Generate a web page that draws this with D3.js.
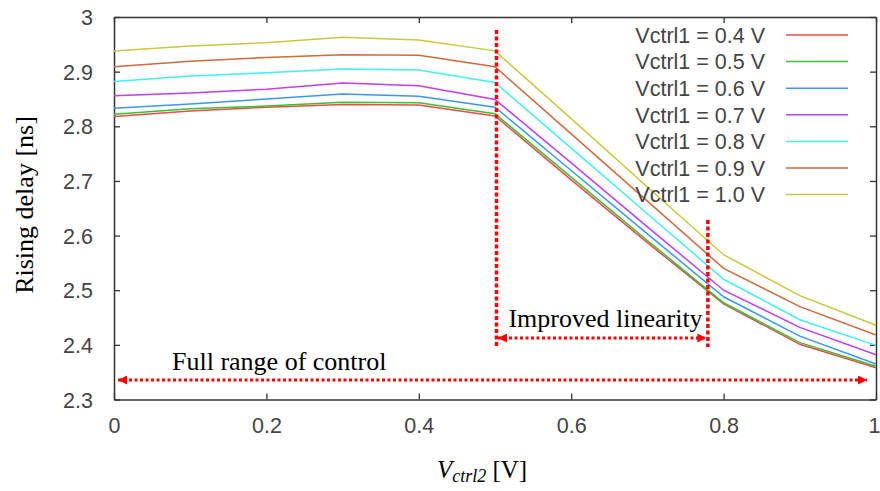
<!DOCTYPE html>
<html><head><meta charset="utf-8">
<script src="https://cdn.jsdelivr.net/npm/d3@7"></script>
<style>
html,body{margin:0;padding:0;background:#fff;}
svg{display:block;}
</style></head>
<body>
<svg id="chart" width="880" height="491"></svg>
<script>
// ---- data ----
const xValues = [0, 0.1, 0.2, 0.3, 0.4, 0.5, 0.6, 0.7, 0.8, 0.9, 1.0];
const seriesNames = ["Vctrl1 = 0.4 V","Vctrl1 = 0.5 V","Vctrl1 = 0.6 V","Vctrl1 = 0.7 V","Vctrl1 = 0.8 V","Vctrl1 = 0.9 V","Vctrl1 = 1.0 V"];
const seriesColors = ["#f24848","#33c433","#3a96f5","#c23cf0","#3ef0f0","#d06a3c","#c8c83a"];
const v04 = [2.818, 2.828, 2.835, 2.840, 2.839, 2.819, 2.702, 2.587, 2.475, 2.401, 2.358];
const v05 = [2.822, 2.832, 2.837, 2.844, 2.843, 2.823, 2.707, 2.591, 2.477, 2.404, 2.361];
const v06 = [2.833, 2.841, 2.850, 2.859, 2.855, 2.835, 2.719, 2.603, 2.488, 2.416, 2.365];
const v07 = [2.856, 2.861, 2.868, 2.879, 2.874, 2.849, 2.733, 2.616, 2.500, 2.432, 2.382];
const v08 = [2.882, 2.892, 2.898, 2.905, 2.903, 2.880, 2.760, 2.640, 2.520, 2.446, 2.399];
const v09 = [2.909, 2.919, 2.926, 2.931, 2.930, 2.909, 2.786, 2.663, 2.540, 2.470, 2.418];
const v10 = [2.938, 2.947, 2.953, 2.963, 2.958, 2.938, 2.814, 2.689, 2.565, 2.490, 2.436];
const seriesValues = [v04, v05, v06, v07, v08, v09, v10];
const xTicks = [0, 0.2, 0.4, 0.6, 0.8, 1];
const xTickLabels = ["0", "0.2", "0.4", "0.6", "0.8", "1"];
const yTicks = [2.3, 2.4, 2.5, 2.6, 2.7, 2.8, 2.9, 3];
const yTickLabels = ["2.3", "2.4", "2.5", "2.6", "2.7", "2.8", "2.9", "3"];
// annotation positions in data units
const improvedRange = [0.5, 0.78];
const fullRange = [0, 1];

// ---- layout ----
const svg = d3.select("#chart");
const L = 114, R = 876, T = 17, B = 399.5;
const x = d3.scaleLinear().domain([0, 1]).range([L, R]);
const y = d3.scaleLinear().domain([2.3, 3]).range([B, T]);
const axisColor = "#333";
const labelColor = "#444";
const sans = "'Liberation Sans', Arial, sans-serif";
const serif = "'Liberation Serif', 'Times New Roman', serif";
const tickFont = "21.5px";

// axes
const gB = svg.append("g").attr("transform", `translate(0,${B})`)
  .call(d3.axisBottom(x).tickValues(xTicks).tickFormat((d,i)=>xTickLabels[i]).tickSizeInner(-6).tickSizeOuter(0).tickPadding(18));
const gL = svg.append("g").attr("transform", `translate(${L},0)`)
  .call(d3.axisLeft(y).tickValues(yTicks).tickFormat((d,i)=>yTickLabels[i]).tickSizeInner(-6).tickSizeOuter(0).tickPadding(21));
const gT = svg.append("g").attr("transform", `translate(0,${T})`)
  .call(d3.axisTop(x).tickValues(xTicks).tickFormat("").tickSizeInner(-6).tickSizeOuter(0));
const gR = svg.append("g").attr("transform", `translate(${R},0)`)
  .call(d3.axisRight(y).tickValues(yTicks).tickFormat("").tickSizeInner(-6).tickSizeOuter(0));
[gB, gL, gT, gR].forEach(g => {
  g.select(".domain").attr("stroke", axisColor).attr("stroke-width", 1.5);
  g.selectAll(".tick line").attr("stroke", axisColor).attr("stroke-width", 1.3);
  g.selectAll(".tick text").attr("fill", labelColor).style("font-family", sans).style("font-size", tickFont);
});
gB.selectAll(".tick text").attr("dy", "0.71em");
gB.selectAll(".tick text").filter((d, i) => i === xTicks.length - 1).attr("dx", -2);
gL.selectAll(".tick text").attr("dy", "0.35em");

// series lines
const line = d3.line().x((d, i) => x(xValues[i])).y(d => y(d));
seriesValues.forEach((vals, k) => {
  svg.append("path").datum(vals)
    .attr("d", line)
    .attr("fill", "none")
    .attr("stroke", seriesColors[k])
    .attr("stroke-width", 1.5);
});

// legend
const legX = 765, legY0 = 35, legDy = 26.6;
seriesNames.forEach((name, k) => {
  const yy = legY0 + k * legDy;
  svg.append("text").attr("x", legX).attr("y", yy).attr("dy", "0.36em")
    .attr("text-anchor", "end").attr("fill", labelColor)
    .style("font-family", sans).style("font-size", tickFont).text(name);
  svg.append("line").attr("x1", 786).attr("x2", 848).attr("y1", yy).attr("y2", yy)
    .attr("stroke", seriesColors[k]).attr("stroke-width", 1.5);
});

// annotations
const defs = svg.append("defs");
defs.append("marker").attr("id", "arrEnd").attr("viewBox", "0 0 10 10")
  .attr("refX", 10).attr("refY", 5).attr("markerWidth", 11).attr("markerHeight", 9)
  .attr("markerUnits", "userSpaceOnUse").attr("orient", "auto")
  .append("path").attr("d", "M0,0 L10,5 L0,10 Z").attr("fill", "#f00");
defs.append("marker").attr("id", "arrStart").attr("viewBox", "0 0 10 10")
  .attr("refX", 0).attr("refY", 5).attr("markerWidth", 11).attr("markerHeight", 9)
  .attr("markerUnits", "userSpaceOnUse").attr("orient", "auto")
  .append("path").attr("d", "M10,0 L0,5 L10,10 Z").attr("fill", "#f00");

const red = "#f00";
// vertical dotted lines
svg.append("line").attr("x1", x(improvedRange[0]) + 1.5).attr("x2", x(improvedRange[0]) + 1.5)
  .attr("y1", 30).attr("y2", 347)
  .attr("stroke", red).attr("stroke-width", 3.5).attr("stroke-dasharray", "4,2.5");
svg.append("line").attr("x1", x(improvedRange[1]) - 0.5).attr("x2", x(improvedRange[1]) - 0.5)
  .attr("y1", 220).attr("y2", 347)
  .attr("stroke", red).attr("stroke-width", 3.5).attr("stroke-dasharray", "4,2.5");
// improved linearity arrow
svg.append("line").attr("x1", x(improvedRange[0]) + 3).attr("x2", x(improvedRange[1]) - 2)
  .attr("y1", 338).attr("y2", 338)
  .attr("stroke", red).attr("stroke-width", 3).attr("stroke-dasharray", "3,2.5")
  .attr("marker-start", "url(#arrStart)").attr("marker-end", "url(#arrEnd)");
svg.append("text").attr("x", 605.5).attr("y", 327).attr("text-anchor", "middle")
  .attr("fill", "#000").style("font-family", serif).style("font-size", "26px").text("Improved linearity");
// full range arrow
svg.append("line").attr("x1", x(fullRange[0]) + 4).attr("x2", x(fullRange[1]) - 9)
  .attr("y1", 380).attr("y2", 380)
  .attr("stroke", red).attr("stroke-width", 3).attr("stroke-dasharray", "3,2.5")
  .attr("marker-start", "url(#arrStart)").attr("marker-end", "url(#arrEnd)");
svg.append("text").attr("x", 172).attr("y", 370)
  .attr("fill", "#000").style("font-family", serif).style("font-size", "26px").text("Full range of control");

// axis titles
svg.append("text").attr("transform", "translate(33,205) rotate(-90)").attr("text-anchor", "middle")
  .attr("fill", "#000").style("font-family", serif).style("font-size", "26px").text("Rising delay [ns]");
const xt = svg.append("text").attr("x", 482).attr("y", 478).attr("text-anchor", "middle")
  .attr("fill", "#000").style("font-family", serif).style("font-size", "25px");
xt.append("tspan").style("font-style", "italic").text("V");
xt.append("tspan").style("font-style", "italic").style("font-size", "18px").attr("dy", 4).text("ctrl2");
xt.append("tspan").attr("dy", -4).text(" [V]");
</script>
</body></html>
